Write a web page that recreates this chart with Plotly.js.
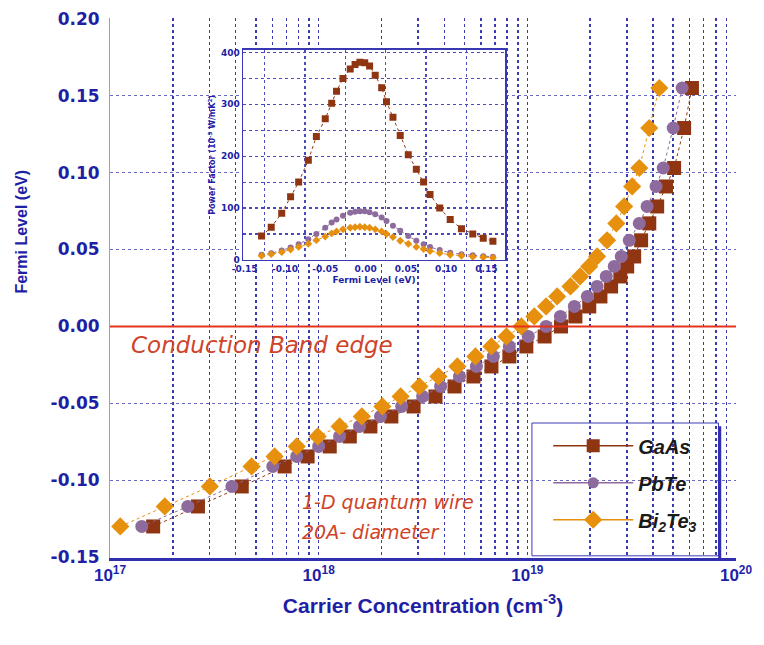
<!DOCTYPE html>
<html>
<head>
<meta charset="utf-8">
<script src="https://cdn.plot.ly/plotly-3.0.1.min.js"></script>
<style>html,body{margin:0;padding:0;background:#fff;}#chart{width:764px;height:645px;}</style>
</head>
<body>
<div id="chart"></div>
<script>
// ---- Main plot data: Fermi level (eV) vs carrier concentration (cm^-3)
const fermiLevel = [-0.130, -0.117, -0.104, -0.091, -0.0845, -0.078, -0.0715, -0.065, -0.0585, -0.052,
  -0.0455, -0.039, -0.0325, -0.026, -0.0195, -0.013, -0.0065, 0.000, 0.0065, 0.013,
  0.0195, 0.026, 0.0325, 0.039, 0.0455, 0.056, 0.067, 0.078, 0.091, 0.103, 0.129, 0.155];
const concGaAs = [1.61e17, 2.64e17, 4.28e17, 6.87e17, 8.85e17, 1.13e18, 1.41e18, 1.77e18, 2.23e18, 2.85e18,
  3.63e18, 4.48e18, 5.52e18, 6.73e18, 8.20e18, 9.89e18, 1.21e19, 1.45e19, 1.70e19, 1.98e19,
  2.24e19, 2.52e19, 2.79e19, 3.01e19, 3.25e19, 3.51e19, 3.84e19, 4.19e19, 4.62e19, 5.05e19, 5.64e19, 6.15e19];
const concPbTe = [1.42e17, 2.36e17, 3.84e17, 6.03e17, 7.85e17, 1.00e18, 1.26e18, 1.57e18, 1.98e18, 2.50e18,
  3.15e18, 3.84e18, 4.73e18, 5.70e18, 6.87e18, 8.20e18, 1.01e19, 1.23e19, 1.44e19, 1.68e19,
  1.94e19, 2.16e19, 2.39e19, 2.61e19, 2.82e19, 3.08e19, 3.44e19, 3.75e19, 4.14e19, 4.48e19, 5.00e19, 5.52e19];
const concBi2Te3 = [1.12e17, 1.83e17, 3.01e17, 4.77e17, 6.15e17, 7.85e17, 9.89e17, 1.26e18, 1.61e18, 2.02e18,
  2.47e18, 3.04e18, 3.75e18, 4.62e18, 5.64e18, 6.73e18, 7.94e18, 9.36e18, 1.08e19, 1.23e19,
  1.39e19, 1.61e19, 1.79e19, 1.98e19, 2.16e19, 2.41e19, 2.67e19, 2.91e19, 3.18e19, 3.44e19, 3.84e19, 4.29e19];

// ---- Inset data: power factor (1e-3 W/mK^2) vs Fermi level (eV)
const insetFermi = [-0.129, -0.117, -0.104, -0.093, -0.083, -0.071, -0.061, -0.050, -0.042, -0.036,
  -0.028, -0.019, -0.013, -0.007, -0.001, 0.005, 0.012, 0.020, 0.026, 0.034,
  0.043, 0.053, 0.063, 0.072, 0.080, 0.092, 0.105, 0.119, 0.133, 0.146, 0.158];
const pfGaAs = [46, 63, 90, 122, 150, 192, 238, 272, 302, 325, 350, 368, 377, 381, 380, 374, 356, 332, 305, 275,
  240, 203, 175, 150, 126, 100, 78, 60, 50, 42, 36];
const pfPbTe = [10, 13, 18, 24, 30, 40, 50, 62, 72, 78, 85, 91, 93, 94, 94, 92, 88, 82, 75, 66,
  56, 46, 37, 30, 25, 19, 14, 11, 9, 7, 6];
const pfBi2Te3 = [8, 11, 15, 20, 25, 31, 38, 45, 51, 55, 59, 62, 63, 64, 63, 62, 59, 55, 50, 44,
  37, 31, 25, 21, 17, 13, 10, 8, 6, 5, 4];

const seriesNames = ['GaAs', 'PbTe', 'Bi<sub>2</sub>Te<sub>3</sub>'];
const xTickLabels = ['10<sup>17</sup>', '10<sup>18</sup>', '10<sup>19</sup>', '10<sup>20</sup>'];
const yTickLabels = ['0.20', '0.15', '0.10', '0.05', '0.00', '-0.05', '-0.10', '-0.15'];
const insetXTickLabels = ['-0.15', '-0.10', '-0.05', '0.00', '0.05', '0.10', '0.15'];
const insetYTickLabels = ['0', '100', '200', '300', '400'];

const cGaAs = '#8f3511', cPbTe = '#8d6b9d', cBi = '#e6900e';
const blue = '#1f1fa6';

// log-scale tick positions (decades labelled, minor positions as grid)
const tickVals = [], tickText = [];
for (let d = 17; d <= 20; d++) {
  for (let m = 1; m <= 9; m++) {
    if (d === 20 && m > 1) break;
    tickVals.push(m * Math.pow(10, d));
    tickText.push(m === 1 ? xTickLabels[d - 17] : '');
  }
}
const yTickVals = yTickLabels.map(Number);

const traces = [
  {x: concGaAs, y: fermiLevel, mode: 'lines+markers', showlegend: false,
   line: {color: cGaAs, width: 1, dash: 'dot'},
   marker: {symbol: 'square', size: 14, color: cGaAs}},
  {x: concPbTe, y: fermiLevel, mode: 'lines+markers', showlegend: false,
   line: {color: cPbTe, width: 1, dash: 'dot'},
   marker: {symbol: 'circle', size: 13, color: cPbTe}},
  {x: concBi2Te3, y: fermiLevel, mode: 'lines+markers', showlegend: false,
   line: {color: cBi, width: 1, dash: 'dot'},
   marker: {symbol: 'diamond', size: 14, color: cBi}},
  // legend entries
  {x: [null], y: [null], name: seriesNames[0], mode: 'lines+markers', legendgroup: 'a',
   line: {color: cGaAs, width: 1.5}, marker: {symbol: 'square', size: 13, color: cGaAs}},
  {x: [null], y: [null], name: seriesNames[1], mode: 'lines+markers', legendgroup: 'b',
   line: {color: cPbTe, width: 1.5}, marker: {symbol: 'circle', size: 11, color: cPbTe}},
  {x: [null], y: [null], name: seriesNames[2], mode: 'lines+markers', legendgroup: 'c',
   line: {color: cBi, width: 1.5}, marker: {symbol: 'diamond', size: 14, color: cBi}},
  // inset
  {x: insetFermi, y: pfGaAs, xaxis: 'x2', yaxis: 'y2', mode: 'lines+markers', showlegend: false,
   line: {color: cGaAs, width: 1, dash: 'dot'}, marker: {symbol: 'square', size: 7, color: cGaAs}},
  {x: insetFermi, y: pfPbTe, xaxis: 'x2', yaxis: 'y2', mode: 'lines+markers', showlegend: false,
   line: {color: cPbTe, width: 1, dash: 'dot'}, marker: {symbol: 'circle', size: 6, color: cPbTe}},
  {x: insetFermi, y: pfBi2Te3, xaxis: 'x2', yaxis: 'y2', mode: 'lines+markers', showlegend: false,
   line: {color: cBi, width: 1, dash: 'dot'}, marker: {symbol: 'diamond', size: 6, color: cBi}}
];

const layout = {
  width: 764, height: 645,
  margin: {l: 110, r: 28, t: 18, b: 87},
  paper_bgcolor: '#ffffff', plot_bgcolor: '#ffffff',
  showlegend: true,
  xaxis: {
    type: 'log', range: [17, 20],
    tickmode: 'array', tickvals: tickVals, ticktext: tickText,
    showgrid: true, gridcolor: '#3a3ab4', griddash: 'dot', gridwidth: 1.5,
    showline: true, linecolor: '#2f2fb0', linewidth: 3, ticks: '',
    zeroline: false,
    tickfont: {family: 'Liberation Sans, Arial, sans-serif', size: 17, color: blue, weight: 'bold'},
    title: {text: 'Carrier Concentration (cm<sup>-3</sup>)', standoff: 14,
      font: {family: 'Liberation Sans, Arial, sans-serif', size: 21, color: blue, weight: 'bold'}}
  },
  yaxis: {
    range: [-0.1505, 0.2005],
    tickmode: 'array', tickvals: yTickVals, ticktext: yTickLabels,
    showgrid: true, gridcolor: '#6c6cc8', griddash: 'dot', gridwidth: 1.2,
    showline: true, linecolor: '#9a9ad6', linewidth: 1, ticks: '',
    zeroline: false, ticklabelstandoff: 6,
    tickfont: {family: 'DejaVu Sans, Verdana, sans-serif', size: 17, color: blue, weight: 'bold'}
  },
  xaxis2: {
    domain: [0.2125, 0.631], anchor: 'y2', range: [-0.152, 0.173],
    tickmode: 'array', tickvals: insetXTickLabels.map(Number), ticktext: insetXTickLabels,
    showgrid: false, zeroline: false,
    minor: {tick0: 0.025, dtick: 0.05, showgrid: true, gridcolor: '#4a4ab8', griddash: 'dot', gridwidth: 1.2, ticks: ''},
    showline: true, mirror: true, linecolor: '#3838b4', linewidth: 1.5, ticks: '',
    tickfont: {family: 'DejaVu Sans, sans-serif', size: 9, color: blue, weight: 'bold'},
    title: {text: 'Fermi Level (eV)', standoff: 3,
      font: {family: 'DejaVu Sans, sans-serif', size: 9, color: blue, weight: 'bold'}}
  },
  yaxis2: {
    domain: [0.552, 0.941], anchor: 'x2', range: [0, 405],
    tickmode: 'array', tickvals: insetYTickLabels.map(Number), ticktext: insetYTickLabels,
    showgrid: true, gridcolor: '#4a4ab8', griddash: 'dot', gridwidth: 1.2, zeroline: false,
    minor: {tick0: 50, dtick: 100, showgrid: true, gridcolor: '#4a4ab8', griddash: 'dot', gridwidth: 1.2, ticks: ''},
    showline: true, mirror: true, linecolor: '#3838b4', linewidth: 1.5, ticks: '',
    tickfont: {family: 'DejaVu Sans, sans-serif', size: 9, color: blue, weight: 'bold'},
    title: {text: 'Power Factor (10<sup>-3</sup> W/mK<sup>2</sup>)', standoff: 4,
      font: {family: 'DejaVu Sans, sans-serif', size: 8, color: blue, weight: 'bold'}}
  },
  legend: {
    x: 0.70, y: 0.244, xanchor: 'left', yanchor: 'top',
    bgcolor: 'rgba(0,0,0,0)', borderwidth: 0,
    traceorder: 'grouped', tracegroupgap: 8, itemwidth: 80,
    font: {family: 'Liberation Sans, Arial, sans-serif', size: 20, color: '#1a1a1a', weight: 'bold', style: 'italic'}
  },
  shapes: [
    {type: 'line', xref: 'paper', yref: 'y', x0: 0, x1: 1, y0: 0, y1: 0,
     line: {color: '#e5331b', width: 2}},
    {type: 'rect', xref: 'paper', yref: 'paper', x0: 0.674, x1: 0.972, y0: 0.004, y1: 0.25,
     fillcolor: '#ffffff', line: {color: '#3a3ab4', width: 1}, layer: 'below'},
    {type: 'line', xref: 'paper', yref: 'paper', x0: 0.974, x1: 0.974, y0: 0.0, y1: 0.244,
     line: {color: '#2f2fb0', width: 3}}
  ],
  annotations: [
    {xref: 'paper', yref: 'paper', x: -0.141, y: 0.604, xanchor: 'center', yanchor: 'middle',
     text: 'Fermi Level (eV)', textangle: -90, showarrow: false,
     font: {family: 'Liberation Sans, Arial, sans-serif', size: 16, color: blue, weight: 'bold'}},
    {xref: 'paper', yref: 'paper', x: 0.03, y: 0.394, xanchor: 'left', yanchor: 'middle',
     text: 'Conduction Band edge', showarrow: false,
     font: {family: 'DejaVu Sans, Verdana, sans-serif', size: 23, color: '#cf4328', style: 'italic'}},
    {xref: 'paper', yref: 'paper', x: 0.303, y: 0.104, xanchor: 'left', yanchor: 'middle',
     text: '1-D quantum wire', showarrow: false,
     font: {family: 'DejaVu Sans, Verdana, sans-serif', size: 19, color: '#cf4328', style: 'italic'}},
    {xref: 'paper', yref: 'paper', x: 0.303, y: 0.048, xanchor: 'left', yanchor: 'middle',
     text: '20A- diameter', showarrow: false,
     font: {family: 'DejaVu Sans, Verdana, sans-serif', size: 19, color: '#cf4328', style: 'italic'}}
  ]
};

Plotly.newPlot('chart', traces, layout, {displayModeBar: false, staticPlot: true});
</script>
</body>
</html>
